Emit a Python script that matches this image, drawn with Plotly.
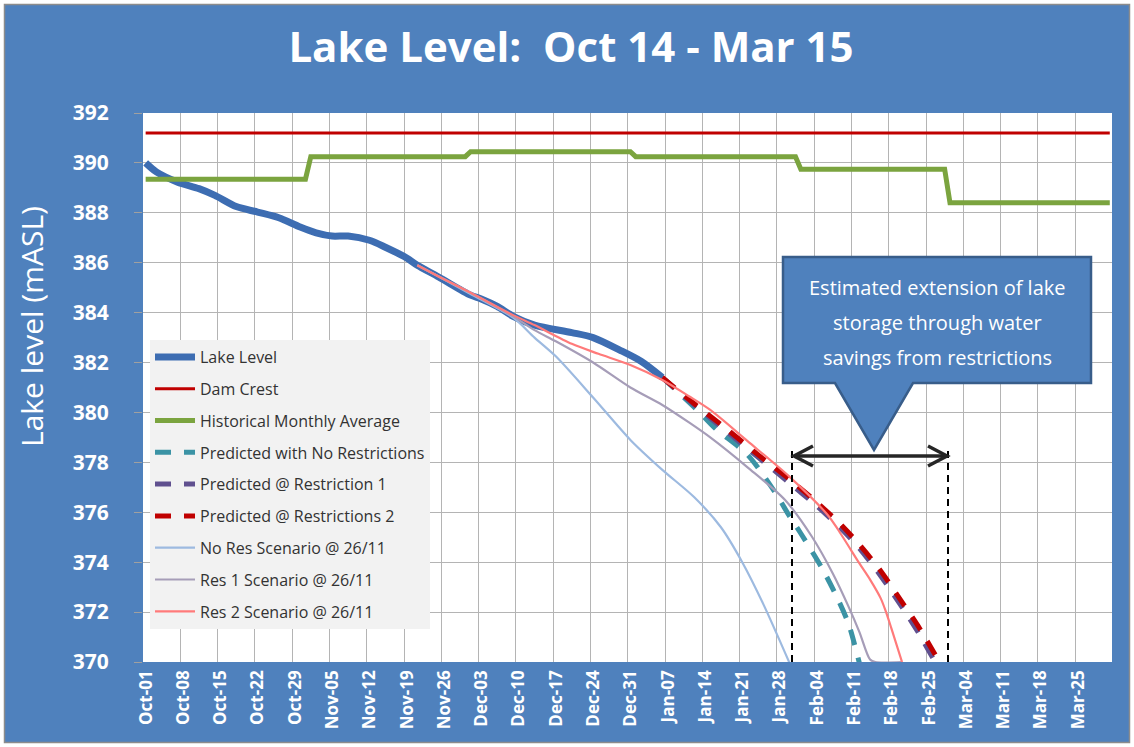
import plotly.graph_objects as go
import pandas as pd

# ---------------- data ----------------
lake_dates = ["2014-10-01", "2014-10-03", "2014-10-07", "2014-10-11", "2014-10-14", "2014-10-18",
              "2014-10-22", "2014-10-26", "2014-10-30", "2014-11-02", "2014-11-05", "2014-11-08",
              "2014-11-12", "2014-11-15", "2014-11-19", "2014-11-21", "2014-11-25", "2014-12-01",
              "2014-12-03", "2014-12-06", "2014-12-09", "2014-12-13", "2014-12-20", "2014-12-24",
              "2014-12-29", "2015-01-02", "2015-01-06"]
lake_values = [390.0, 389.64, 389.23, 388.97, 388.7, 388.25,
               388.03, 387.8, 387.43, 387.2, 387.07, 387.07,
               386.9, 386.62, 386.19, 385.9, 385.43, 384.7,
               384.55, 384.25, 383.85, 383.5, 383.2, 383.0,
               382.5, 382.05, 381.4]

dam_dates = ["2014-10-01", "2015-03-31"]
dam_values = [391.2, 391.2]

hist_dates = ["2014-10-01", "2014-10-31", "2014-11-01", "2014-11-30", "2014-12-01", "2014-12-31",
              "2015-01-01", "2015-01-31", "2015-02-01", "2015-02-28", "2015-03-01", "2015-03-31"]
hist_values = [389.35, 389.35, 390.25, 390.25, 390.45, 390.45,
               390.25, 390.25, 389.75, 389.75, 388.4, 388.4]

pred_nores_dates = ["2015-01-06", "2015-01-13", "2015-01-16", "2015-01-22", "2015-01-27", "2015-01-30",
                    "2015-02-01", "2015-02-05", "2015-02-08", "2015-02-10", "2015-02-12"]
pred_nores_values = [381.4, 380.0, 379.35, 378.3, 376.85, 375.8,
                     375.15, 373.75, 372.5, 371.5, 369.95]

pred_r1_dates = ["2015-01-06", "2015-01-12", "2015-01-18", "2015-01-24", "2015-01-30", "2015-02-04",
                 "2015-02-09", "2015-02-12", "2015-02-16", "2015-02-20", "2015-02-23", "2015-02-27"]
pred_r1_values = [381.4, 380.3, 379.25, 378.2, 377.15, 376.25,
                  375.25, 374.55, 373.45, 372.2, 371.2, 369.7]

pred_r2_dates = ["2015-01-06", "2015-01-12", "2015-01-18", "2015-01-24", "2015-01-30", "2015-02-04",
                 "2015-02-09", "2015-02-12", "2015-02-16", "2015-02-20", "2015-02-23", "2015-02-27"]
pred_r2_values = [381.4, 380.35, 379.35, 378.3, 377.3, 376.4,
                  375.4, 374.7, 373.65, 372.4, 371.45, 370.0]

scen_nores_dates = ["2014-11-21", "2014-11-25", "2014-12-01", "2014-12-09", "2014-12-13", "2014-12-17",
                    "2014-12-24", "2014-12-31", "2015-01-06", "2015-01-12", "2015-01-17", "2015-01-21",
                    "2015-01-25", "2015-01-30"]
scen_nores_values = [385.9, 385.45, 384.75, 383.8, 383.0, 382.25,
                     380.6, 378.9, 377.7, 376.6, 375.4, 374.0,
                     372.3, 369.9]

scen_r1_dates = ["2014-11-21", "2014-11-25", "2014-12-01", "2014-12-09", "2014-12-13", "2014-12-17",
                 "2014-12-24", "2014-12-31", "2015-01-06", "2015-01-11", "2015-01-15", "2015-01-22",
                 "2015-01-29", "2015-02-03", "2015-02-07", "2015-02-10", "2015-02-12", "2015-02-14",
                 "2015-02-15", "2015-02-20"]
scen_r1_values = [385.9, 385.45, 384.8, 383.85, 383.3, 382.85,
                  382.0, 381.0, 380.3, 379.6, 379.0, 377.8,
                  376.5, 375.05, 373.55, 372.2, 371.2, 370.1,
                  370.0, 370.0]

scen_r2_dates = ["2014-11-21", "2014-11-25", "2014-12-01", "2014-12-09", "2014-12-13", "2014-12-20",
                 "2014-12-25", "2014-12-31", "2015-01-06", "2015-01-11", "2015-01-15", "2015-01-22",
                 "2015-01-30", "2015-02-06", "2015-02-08", "2015-02-12", "2015-02-14", "2015-02-16",
                 "2015-02-17", "2015-02-18", "2015-02-20"]
scen_r2_values = [385.9, 385.45, 384.8, 383.9, 383.5, 382.75,
                  382.35, 381.9, 381.3, 380.65, 380.1, 378.85,
                  377.4, 375.9, 375.3, 373.95, 373.3, 372.55,
                  372.0, 371.35, 370.0]

y_range = [370, 392]
x_range = ["2014-10-01", "2015-03-31 22:00"]

# ---------------- styling ----------------
BG = "#4F81BD"
FONT = "Open Sans"
HALF_DAY = pd.Timedelta(hours=12)  # Excel plots each daily value in the middle of its day slot


def centred(dates):
    return [d + HALF_DAY for d in pd.to_datetime(dates)]


series = [
    ("Lake Level", lake_dates, lake_values, dict(color="#3D6DB2", width=7), "spline"),
    ("Dam Crest", dam_dates, dam_values, dict(color="#C00000", width=3), "linear"),
    ("Historical Monthly Average", hist_dates, hist_values, dict(color="#7BA43F", width=5), "linear"),
    ("Predicted with No Restrictions", pred_nores_dates, pred_nores_values,
     dict(color="#3B93A5", width=5, dash="16px,13px"), "spline"),
    ("Predicted @ Restriction 1", pred_r1_dates, pred_r1_values,
     dict(color="#60508F", width=5, dash="16px,13px"), "spline"),
    ("Predicted @ Restrictions 2", pred_r2_dates, pred_r2_values,
     dict(color="#C00000", width=5, dash="16px,13px"), "spline"),
    ("No Res Scenario @ 26/11", scen_nores_dates, scen_nores_values, dict(color="#9DBAE0", width=2.2), "spline"),
    ("Res 1 Scenario @ 26/11", scen_r1_dates, scen_r1_values, dict(color="#A69DB8", width=2.2), "spline"),
    ("Res 2 Scenario @ 26/11", scen_r2_dates, scen_r2_values, dict(color="#FF7A7A", width=2.2), "spline"),
]

fig = go.Figure()
for i, (name, d, v, line, shape) in enumerate(series):
    ln = dict(line)
    ln["shape"] = shape
    if shape == "spline":
        ln["smoothing"] = 0.8
    fig.add_trace(go.Scatter(x=centred(d), y=v, name=name, mode="lines", line=ln,
                             legendgroup=str(i)))

# plot area in pixels
L, R, T, B = 143, 1112, 113, 662
W, H = 1134, 747


def px(x):
    return (x - L) / (R - L)


def py(y):
    return (B - y) / (B - T)


shapes = []
# white outer margin + grey border of the chart frame
shapes.append(dict(type="rect", xref="paper", yref="paper", x0=px(0), x1=px(W), y0=py(H), y1=py(0),
                   line=dict(color="white", width=9), fillcolor="rgba(0,0,0,0)", layer="above"))
shapes.append(dict(type="rect", xref="paper", yref="paper", x0=px(4.5), x1=px(W - 4.5), y0=py(H - 4.5),
                   y1=py(4.5), line=dict(color="#8C8C8C", width=1.5), fillcolor="rgba(0,0,0,0)", layer="above"))

# dashed vertical markers
for xv in (792, 948):
    shapes.append(dict(type="line", xref="paper", yref="paper", x0=px(xv), x1=px(xv), y0=0, y1=py(447),
                       line=dict(color="black", width=2, dash="7px,5px")))

# double-headed arrow
ya = 456
shapes.append(dict(type="line", xref="paper", yref="paper", x0=px(794), x1=px(947), y0=py(ya), y1=py(ya),
                   line=dict(color="#262626", width=3.5)))
for tip, arm in ((794, 813), (947, 928)):
    shapes.append(dict(type="path", xref="paper", yref="paper",
                       path=f"M {px(arm)},{py(ya - 10)} L {px(tip)},{py(ya)} L {px(arm)},{py(ya + 10)}",
                       line=dict(color="#262626", width=3.5)))

# callout box
bx0, bx1, by0, by1 = px(783), px(1091), py(383), py(257)
tb0, tb1, tipx, tipy = px(835), px(913), px(874), py(450)
shapes.append(dict(type="path", xref="paper", yref="paper",
                   path=(f"M {bx0},{by0} L {bx0},{by1} L {bx1},{by1} L {bx1},{by0} "
                         f"L {tb1},{by0} L {tipx},{tipy} L {tb0},{by0} Z"),
                   fillcolor=BG, line=dict(color="#385D8A", width=2.5)))

annotations = []
for text, yy in (("Estimated extension of lake", 287), ("storage through water", 322),
                 ("savings from restrictions", 357)):
    annotations.append(dict(text=text, xref="paper", yref="paper", x=px(937), y=py(yy),
                            xanchor="center", yanchor="middle", showarrow=False,
                            font=dict(family=FONT, size=20, color="white")))

# y-axis title (placed above the axis centre, as in the original)
annotations.append(dict(text="Lake level (mASL)", xref="paper", yref="paper", x=px(31), y=py(327),
                        xanchor="center", yanchor="middle", textangle=-90, showarrow=False,
                        font=dict(family=FONT, size=30, color="white")))

fig.update_layout(
    width=W, height=H,
    margin=dict(l=L, r=W - R, t=T, b=H - B, autoexpand=False),
    paper_bgcolor=BG, plot_bgcolor="white",
    font=dict(family=FONT, color="white"),
    title=dict(text="Lake Level:\u00a0 Oct 14 - Mar 15", x=571 / W, xref="container", xanchor="center",
               y=1 - 47 / H, yref="container", yanchor="middle",
               font=dict(family=FONT, size=42, color="white", weight="bold")),
    legend=dict(x=px(150), y=py(340), xanchor="left", yanchor="top", bgcolor="#F2F2F2",
                font=dict(family=FONT, size=16, color="#333333"), tracegroupgap=8, itemwidth=40,
                borderwidth=0),
    shapes=shapes,
    annotations=annotations,
)

fig.update_xaxes(type="date", range=x_range, tick0="2014-10-01", dtick=7 * 86400000, tickformat="%b-%d",
                 tickangle=-90, tickfont=dict(family=FONT, size=17, color="white", weight="bold"),
                 showgrid=True, gridcolor="#B4B4B4", gridwidth=1, ticks="", showline=False,
                 zeroline=False, ticklabelshift=3, ticklabelstandoff=4)
fig.update_yaxes(range=y_range, tick0=370, dtick=2, showgrid=True, gridcolor="#B4B4B4", gridwidth=1,
                 ticks="outside", ticklen=8, tickcolor="#A0A0A0", showline=False, zeroline=False,
                 tickfont=dict(family=FONT, size=21, color="white", weight="bold"), ticklabelstandoff=21)

fig.write_html("out.html", post_script="document.body.style.margin='0px';",
               config={"displayModeBar": False})
